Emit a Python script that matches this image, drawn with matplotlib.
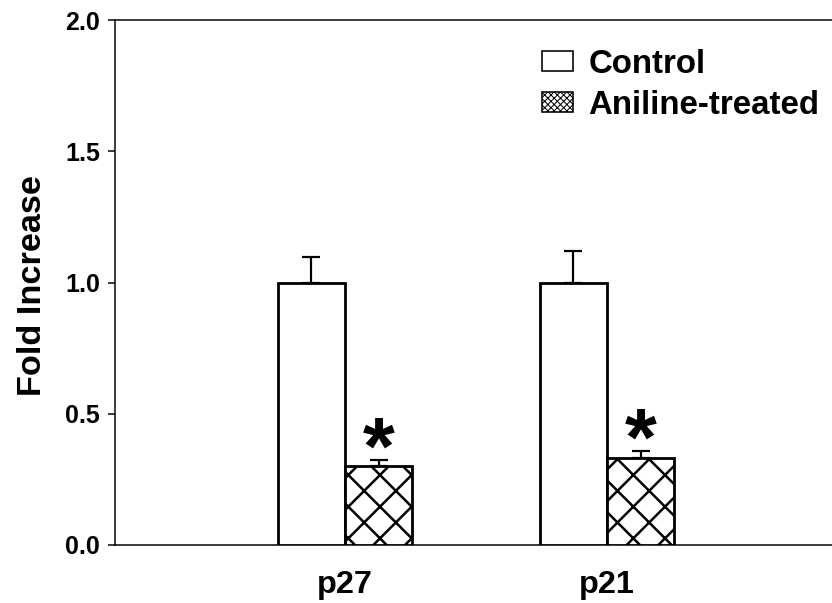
import matplotlib
matplotlib.use("Agg")
import matplotlib.pyplot as plt
import numpy as np

DPI = 95


def pt(px):
    return px * 72.0 / DPI


plt.rcParams['font.family'] = ['Liberation Sans', 'DejaVu Sans']
plt.rcParams['font.weight'] = 'bold'
plt.rcParams['hatch.linewidth'] = pt(2.5)

categories = ['p27', 'p21']
control = [1.0, 1.0]
control_err = [0.097, 0.121]
aniline = [0.301, 0.330]
aniline_err = [0.023, 0.027]
series_labels = ['Control', 'Aniline-treated']
y_ticks = [0.0, 0.5, 1.0, 1.5, 2.0]

fig = plt.figure(figsize=(832 / DPI, 603 / DPI), dpi=DPI)
ax = fig.add_axes([115 / 832, 58 / 603, 725 / 832, 525 / 603])

x = np.arange(1, len(categories) + 1)
w = 0.256
ax.bar(x - w / 2, control, w, color='white', edgecolor='black', linewidth=pt(2.8),
       label=series_labels[0], zorder=3)
ax.bar(x + w / 2, aniline, w, color='white', edgecolor='black', linewidth=pt(2.8),
       hatch='x', label=series_labels[1], zorder=3)
ax.errorbar(x - w / 2, control, yerr=[np.zeros(len(control)), control_err], fmt='none',
            ecolor='black', elinewidth=pt(2.2), capsize=pt(9), capthick=pt(2.2), zorder=2)
ax.errorbar(x + w / 2, aniline, yerr=[np.zeros(len(aniline)), aniline_err], fmt='none',
            ecolor='black', elinewidth=pt(2.2), capsize=pt(9), capthick=pt(2.2), zorder=2)

for xi, v, e in zip(x + w / 2, aniline, aniline_err):
    ax.text(xi, v + e - 0.052, '*', ha='center', va='baseline', fontsize=pt(82),
            fontweight='bold')

ax.set_xlim(1 - 230 / 262, 2 + 233 / 262)
ax.set_ylim(0, 2.0)
ax.set_yticks(y_ticks)
ax.set_yticklabels([f'{t:.1f}' for t in y_ticks], fontsize=pt(25), fontweight='bold')
ax.set_xticks(x)
ax.set_xticklabels(categories, fontsize=pt(32.5), fontweight='bold')
ax.tick_params(axis='x', length=0, pad=pt(24.5))
ax.tick_params(axis='y', direction='out', length=pt(7), width=pt(1.5), pad=pt(8))
for s in ['left', 'top', 'bottom', 'right']:
    ax.spines[s].set_linewidth(pt(1.5))

ax.set_ylabel('Fold Increase', fontsize=pt(34.3), fontweight='bold', va='center')
ax.yaxis.set_label_coords(-0.114, 0.495)

leg = ax.legend(loc='upper left', bbox_to_anchor=(542 / 832, 1 - 49 / 603),
                bbox_transform=fig.transFigure, frameon=False,
                borderpad=0, borderaxespad=0, handlelength=0.95, handleheight=0.55,
                handletextpad=0.45, labelspacing=0.3,
                prop={'weight': 'bold', 'size': pt(33)})
handles = getattr(leg, 'legend_handles', None) or leg.legendHandles
for h in handles:
    h.set_linewidth(pt(1.6))
handles[1].set_hatch('xxxxx')
if hasattr(handles[1], 'set_hatch_linewidth'):
    handles[1].set_hatch_linewidth(pt(1.0))

fig.savefig('out.png', dpi=DPI)
